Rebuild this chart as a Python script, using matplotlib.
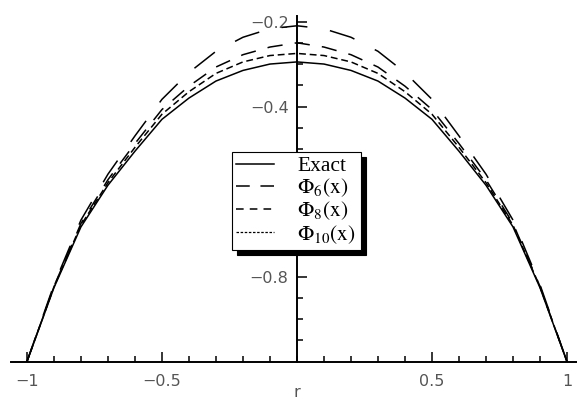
import matplotlib
matplotlib.use('Agg')
import matplotlib.pyplot as plt
from matplotlib.lines import Line2D
import numpy as np

# r from -1 to 1 (curves are symmetric)
r = np.round(np.arange(-1.0, 1.0001, 0.1), 2)
half_exact = [-1.0, -0.826, -0.683, -0.585, -0.505, -0.43, -0.38, -0.34, -0.315, -0.3, -0.295]
half_phi6 = [-1.0, -0.819, -0.667, -0.559, -0.469, -0.383, -0.32, -0.27, -0.237, -0.217, -0.21]
half_phi8 = [-1.0, -0.823, -0.675, -0.572, -0.487, -0.407, -0.352, -0.307, -0.278, -0.26, -0.25]
half_phi10 = [-1.0, -0.824, -0.679, -0.579, -0.496, -0.418, -0.365, -0.322, -0.295, -0.28, -0.275]

exact = half_exact + half_exact[-2::-1]
phi6 = half_phi6 + half_phi6[-2::-1]
phi8 = half_phi8 + half_phi8[-2::-1]
phi10 = half_phi10 + half_phi10[-2::-1]

labels = ['Exact', r'$\Phi_{6}(\mathrm{x})$', r'$\Phi_{8}(\mathrm{x})$', r'$\Phi_{10}(\mathrm{x})$']

plt.rcParams['mathtext.fontset'] = 'stix'

fig = plt.figure(figsize=(5.77, 3.99), dpi=100)
ax = fig.add_axes([11 / 577, 37.3 / 399, 566 / 577, 345.7 / 399])

lw = 1.1
ax.plot(r, exact, color='black', lw=lw)
l6, = ax.plot(r, phi6, color='black', lw=lw)
l6.set_dashes([17, 15])
l8, = ax.plot(r, phi8, color='black', lw=lw)
l8.set_dashes([10, 8])
l10, = ax.plot(r, phi10, color='black', lw=lw)
l10.set_dashes([4.5, 2.5])

ax.set_xlim(-1.059, 1.037)
ax.set_ylim(-1.0, -0.187)

# Mathematica-like axes crossing at (0, -1)
ax.spines['left'].set_position(('data', 0))
ax.spines['bottom'].set_position(('data', -1))
ax.spines['top'].set_visible(False)
ax.spines['right'].set_visible(False)
for s in ['left', 'bottom']:
    ax.spines[s].set_linewidth(1.4)

ax.set_xticks([-1, -0.5, 0.5, 1])
ax.set_xticklabels(['\u22121', '\u22120.5', '0.5', '1'])
ax.set_xticks(np.arange(-1, 1.001, 0.1), minor=True)
ax.set_yticks([-0.8, -0.6, -0.4, -0.2])
ax.set_yticklabels(['\u22120.8', '\u22120.6', '\u22120.4', '\u22120.2'])
ax.set_yticks(np.arange(-0.95, -0.19, 0.05), minor=True)
ax.tick_params(which='both', direction='in', colors='black', labelcolor='#555555',
               labelsize=11.5, width=1.1)
ax.tick_params(which='major', length=7)
ax.tick_params(which='minor', length=4)
ax.tick_params(axis='x', pad=9)
ax.tick_params(axis='y', pad=6)

ax.set_xlabel('r', color='#555555', fontsize=11.5)
ax.xaxis.set_label_coords(1.059 / 2.096, -0.09)
ax.xaxis.label.set_va('center')

handles = [Line2D([], [], color='black', lw=lw),
           Line2D([], [], color='black', lw=lw, dashes=[9, 7]),
           Line2D([], [], color='black', lw=lw, dashes=[5, 4]),
           Line2D([], [], color='black', lw=0.9, dashes=[2, 1.3])]
leg = ax.legend(handles, labels, loc='upper left', bbox_to_anchor=(0.39, 0.607),
                borderaxespad=0, fancybox=False, framealpha=1, edgecolor='black',
                prop={'family': 'Liberation Serif', 'size': 15.5}, handlelength=1.75,
                handletextpad=1.1, labelspacing=0.02, borderpad=0.2,
                shadow={'ox': 4, 'oy': -4, 'shade': 1.0, 'alpha': 1})
leg.get_frame().set_linewidth(0.8)

fig.savefig('out.png', dpi=100)
